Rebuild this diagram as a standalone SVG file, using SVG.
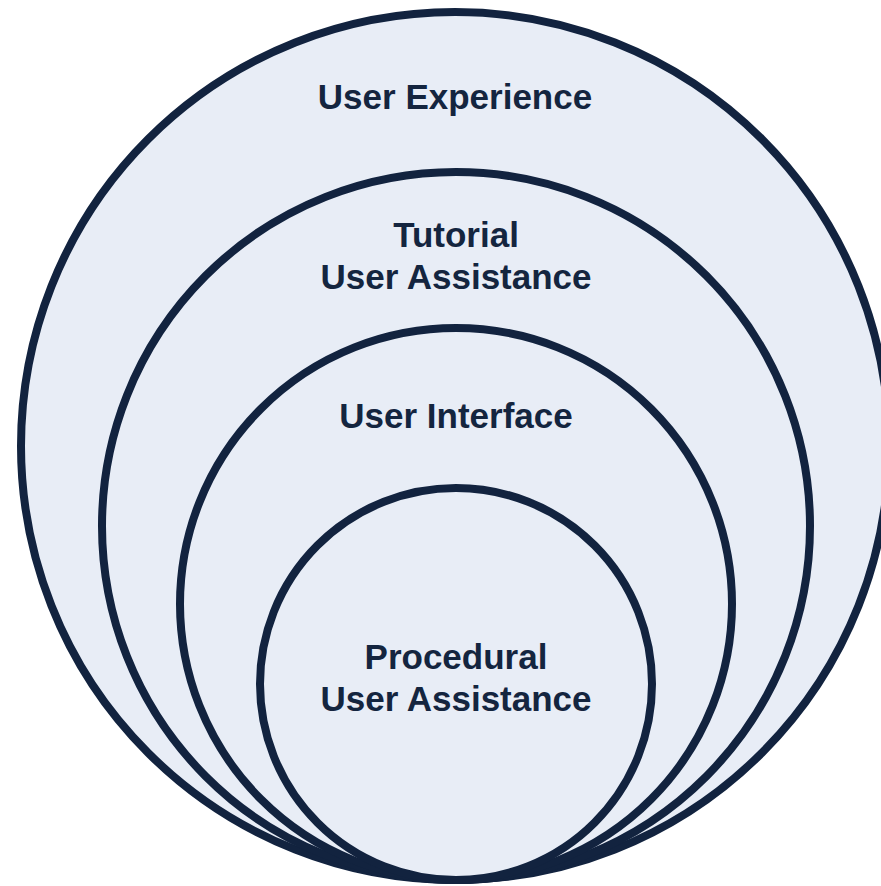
<svg xmlns="http://www.w3.org/2000/svg" width="881" height="886" viewBox="0 0 881 886">
<style>
.c{fill:#e8edf6;stroke:#12233f;stroke-width:8}
.t{font-family:"Liberation Sans",Arial,sans-serif;font-weight:bold;font-size:35px;fill:#14253f;text-anchor:middle}
</style>
<rect width="881" height="886" fill="#ffffff"/>
<g id="user-experience">
<circle class="c" cx="455" cy="446" r="434"/>
<text class="t" x="455" y="109">User Experience</text>
</g>
<g id="tutorial-user-assistance">
<circle class="c" cx="456" cy="526" r="354"/>
<text class="t" x="456" y="247">Tutorial</text>
<text class="t" x="456" y="289">User Assistance</text>
</g>
<g id="user-interface">
<circle class="c" cx="456" cy="604" r="276"/>
<text class="t" x="456" y="428">User Interface</text>
</g>
<g id="procedural-user-assistance">
<circle class="c" cx="456" cy="684" r="196"/>
<text class="t" x="456" y="669">Procedural</text>
<text class="t" x="456" y="711">User Assistance</text>
</g>
<g id="connectors"/>
</svg>
